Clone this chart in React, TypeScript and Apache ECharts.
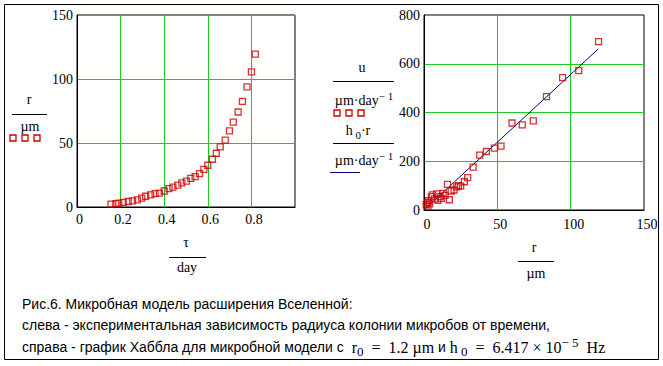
import React, { useEffect, useRef } from "react";
import * as echarts from "echarts";

// Left chart: colony radius r (µm) vs time τ (day)
const tauDays = [0.156, 0.178, 0.192, 0.212, 0.235, 0.255, 0.277, 0.297, 0.315, 0.338, 0.358, 0.378, 0.4, 0.422, 0.44, 0.462, 0.481, 0.502, 0.522, 0.542, 0.562, 0.582, 0.6, 0.621, 0.639, 0.657, 0.68, 0.699, 0.717, 0.739, 0.759, 0.78, 0.8, 0.818];
const radiusUm = [2.3, 2.6, 3, 3.6, 4.3, 4.8, 5.6, 6.9, 8.4, 9.4, 10.4, 10.9, 12.5, 14.3, 15.5, 17.1, 18.9, 20.2, 22.3, 23.8, 26, 29.4, 32.6, 37.3, 42, 47, 52.2, 59.5, 66.3, 74.2, 82.5, 93.8, 105.5, 119.5];

// Right chart: Hubble plot, velocity u vs r
const hubbleR = [1.5, 2.3, 2.7, 3.2, 3.8, 5.0, 5.8, 7.2, 8.6, 9.5, 11.0, 11.8, 13.0, 14.3, 16.0, 17.3, 18.5, 20.5, 22.3, 23.5, 25.0, 27.5, 29.8, 33.5, 38.0, 42.5, 48.0, 52.5, 60.0, 67.0, 74.5, 83.5, 94.5, 105.5, 119.0];
const hubbleU = [22, 30, 16, 38, 25, 55, 62, 46, 66, 40, 55, 48, 68, 60, 105, 42, 78, 82, 95, 100, 98, 116, 133, 176, 225, 240, 254, 262, 357, 349, 366, 465, 543, 572, 691];

// Fit line h0·r (end points)
const fitR = [1.2, 118.7];
const fitU = [6.7, 660];

const green = "#1ccc1c";
const red = "#cc0000";
const serif = "'Liberation Serif', 'DejaVu Serif', serif";
const sans = "'Liberation Sans', Arial, sans-serif";

function zip(a: number[], b: number[]) {
  return a.map((v, i) => [v, b[i]]);
}

export default function App() {
  const ref = useRef<HTMLDivElement>(null);
  useEffect(() => {
    if (!ref.current) return;
    const chart = echarts.init(ref.current, undefined, { renderer: "svg" });
    const axisLabelBase = { fontFamily: serif, fontSize: 14, color: "#000" };
    const split = { show: true, showMinLine: false, lineStyle: { color: green, width: 1 } };
    const axLine = { show: true, onZero: false, lineStyle: { color: "#000", width: 1 } };
    const sq = (x: number, y: number) => ({
      type: "rect",
      shape: { x: x - 3, y: y - 3, width: 6, height: 6 },
      style: { fill: "none", stroke: red, lineWidth: 1.3 },
    });
    const txt = (x: number, y: number, text: string, extra: any = {}) => ({
      type: "text",
      x,
      y,
      style: {
        text,
        font: `14px ${serif}`,
        fill: "#000",
        textAlign: "center",
        textVerticalAlign: "middle",
        ...extra,
      },
    });
    const hl = (x1: number, x2: number, y: number, color = "#000") => ({
      type: "line",
      shape: { x1, y1: y, x2, y2: y },
      style: { stroke: color, lineWidth: 1 },
    });
    const richMath = {
      a: { fontFamily: serif, fontSize: 14, lineHeight: 20, verticalAlign: "middle" },
      sup: { fontFamily: serif, fontSize: 11, lineHeight: 11, verticalAlign: "top" },
      sub: { fontFamily: serif, fontSize: 11, lineHeight: 11, verticalAlign: "bottom" },
    };
    const unitText = "{a|µm·day}{sup|− 1}";

    const option: any = {
      animation: false,
      backgroundColor: "#fff",
      grid: [
        { left: 77, top: 15, width: 218, height: 192, show: true, borderColor: "#000", borderWidth: 1, backgroundColor: "transparent" },
        { left: 424, top: 15, width: 220, height: 195, show: true, borderColor: "#000", borderWidth: 1, backgroundColor: "transparent" },
      ],
      xAxis: [
        {
          gridIndex: 0, type: "value", min: 0, max: 1, interval: 0.2,
          axisLine: axLine, axisTick: { show: false },
          axisLabel: {
            ...axisLabelBase, margin: 5, padding: [0, 0, 0, 5],
            formatter: (v: number) => (v >= 0.999 ? "" : v === 0 ? "0" : v.toFixed(1)),
          },
          splitLine: { ...split, showMaxLine: false },
        },
        {
          gridIndex: 1, type: "value", min: 0, max: 150, interval: 50,
          axisLine: axLine, axisTick: { show: false },
          axisLabel: { ...axisLabelBase, margin: 7, padding: [0, 0, 0, 6] },
          splitLine: { ...split, showMaxLine: false },
        },
      ],
      yAxis: [
        {
          gridIndex: 0, type: "value", min: 0, max: 150, interval: 50,
          axisLine: axLine, axisTick: { show: false },
          axisLabel: { ...axisLabelBase, margin: 4 },
          splitLine: { ...split, showMaxLine: true },
        },
        {
          gridIndex: 1, type: "value", min: 0, max: 800, interval: 200,
          axisLine: axLine, axisTick: { show: false },
          axisLabel: { ...axisLabelBase, margin: 4 },
          splitLine: { ...split, showMaxLine: false },
        },
      ],
      series: [
        {
          type: "scatter", xAxisIndex: 0, yAxisIndex: 0,
          data: zip(tauDays, radiusUm),
          symbol: "rect", symbolSize: 6,
          itemStyle: { color: "rgba(0,0,0,0)", borderColor: red, borderWidth: 1.3 },
          z: 5,
        },
        {
          type: "line", xAxisIndex: 1, yAxisIndex: 1,
          data: zip(fitR, fitU),
          showSymbol: false, symbol: "none",
          lineStyle: { color: "#000080", width: 1 },
          z: 4,
        },
        {
          type: "scatter", xAxisIndex: 1, yAxisIndex: 1,
          data: zip(hubbleR, hubbleU),
          symbol: "rect", symbolSize: 6,
          itemStyle: { color: "rgba(0,0,0,0)", borderColor: red, borderWidth: 1.3 },
          z: 5,
        },
      ],
      graphic: [
        {
          type: "rect",
          shape: { x: 4.5, y: 4.5, width: 654, height: 355 },
          style: { fill: "none", stroke: "#000", lineWidth: 1 },
          silent: true,
        },
        // left y name
        txt(29, 99, "r"),
        hl(12, 47, 114.5),
        txt(30, 126, "µm"),
        sq(13, 138), sq(25, 138), sq(37, 138),
        // left x name
        txt(186, 242, "τ"),
        hl(169, 206, 257.5),
        txt(187, 267, "day"),
        // right y names
        txt(362, 67, "u"),
        hl(333, 394, 81.5),
        txt(364, 100, unitText, { rich: richMath }),
        sq(337, 113), sq(349, 113), sq(361, 113),
        txt(358, 130, "{a|h}{sub| 0}{a|·r}", { rich: richMath }),
        hl(333, 394, 143.5),
        txt(364, 160, unitText, { rich: richMath }),
        hl(330, 360, 172.5, "#000080"),
        // right x name
        txt(534, 247, "r"),
        hl(518, 554, 261.5),
        txt(536, 273, "µm"),
        // caption
        {
          type: "text", x: 22, y: 304,
          style: { text: "Рис.6. Микробная модель расширения Вселенной:", font: `14px ${sans}`, fill: "#000", textVerticalAlign: "middle" },
        },
        {
          type: "text", x: 22, y: 325,
          style: { text: "слева - экспериментальная зависимость радиуса колонии микробов от времени,", font: `14px ${sans}`, fill: "#000", textVerticalAlign: "middle" },
        },
        {
          type: "text", x: 22, y: 347,
          style: {
            text: "{s|справа - график Хаббла для микробной модели с }{m| r}{sub|0}{m|  =  1.2 µm}{s| и }{m|h}{sub| 0}{m|  =  6.417 × 10}{sup|− 5}{m|  Hz}",
            fill: "#000",
            textVerticalAlign: "middle",
            rich: {
              s: { fontFamily: sans, fontSize: 14, lineHeight: 22, verticalAlign: "middle" },
              m: { fontFamily: serif, fontSize: 16, lineHeight: 22, verticalAlign: "middle" },
              sub: { fontFamily: serif, fontSize: 13, lineHeight: 13, verticalAlign: "bottom" },
              sup: { fontFamily: serif, fontSize: 13, lineHeight: 13, verticalAlign: "top" },
            },
          },
        },
      ],
    };
    chart.setOption(option);
    return () => chart.dispose();
  }, []);
  return (
    <div
      ref={ref}
      style={{ position: "fixed", left: 0, top: 0, width: 663, height: 366, background: "#fff" }}
    />
  );
}
